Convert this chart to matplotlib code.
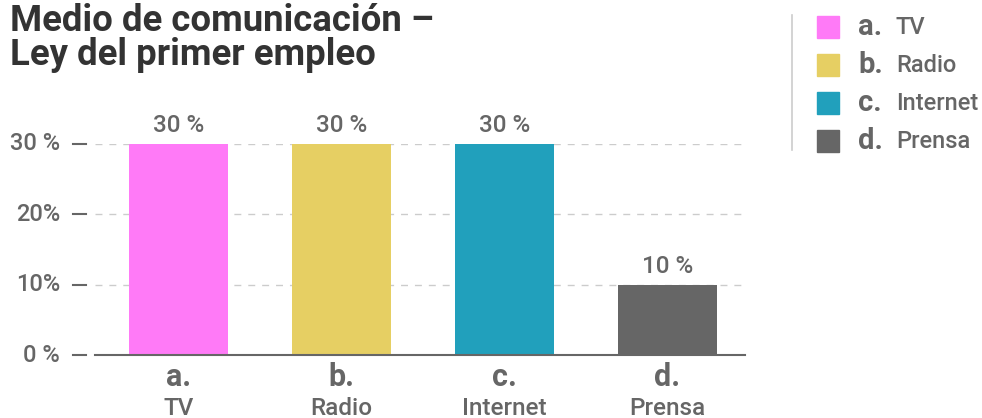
import numpy as np
import matplotlib.pyplot as plt
from matplotlib.patches import Rectangle
from matplotlib.lines import Line2D

plt.rcParams['font.family'] = ['Roboto', 'DejaVu Sans']

# datos
letras = ['a.', 'b.', 'c.', 'd.']
medios = ['TV', 'Radio', 'Internet', 'Prensa']
valores = [30, 30, 30, 10]
colores = ['#ff7af7', '#e6cf63', '#21a0bc', '#666666']
ticks_y = [0, 10, 20, 30]
ticks_y_txt = ['0 %', '10%', '20%', '30 %']

W, H = 982, 418
fig = plt.figure(figsize=(W / 100, H / 100), dpi=100)

# ejes en pixeles de la referencia
x0, x1, y0, y1 = 95, 745, 355, 144
ax = fig.add_axes([x0 / W, 1 - y0 / H, (x1 - x0) / W, (y0 - y1) / H])

pos = np.arange(len(valores))
ax.bar(pos, valores, width=0.607, color=colores, zorder=2)
ax.set_xlim(-0.512, 3.475)
ax.set_ylim(0, 30)

for s in ['top', 'right', 'left']:
    ax.spines[s].set_visible(False)
ax.spines['bottom'].set_color('#666666')
ax.spines['bottom'].set_linewidth(1.5)
ax.spines['bottom'].set_zorder(3)
ax.set_xticks([])
ax.set_yticks([])

gris = '#666666'

# rejilla discontinua
for t in ticks_y[1:]:
    ax.axhline(t, color='#cccccc', lw=1, ls=(0, (5, 5)), zorder=1)

# marcas y etiquetas del eje y
tr_y = ax.get_yaxis_transform()
for t, txt in zip(ticks_y, ticks_y_txt):
    ax.plot([-0.034, -0.014], [t, t], color=gris, lw=1.5, transform=tr_y, clip_on=False)
    ax.text(-0.054, t, txt, transform=tr_y, ha='right', va='center',
            fontsize=17, color=gris, fontweight='medium')

# valores sobre las barras
for p, v in zip(pos, valores):
    ax.annotate(f'{v} %', (p, v), xytext=(0, 13), textcoords='offset points',
                ha='center', va='center', fontsize=17.5, color=gris, fontweight='medium')

# etiquetas de categoria (cortadas abajo como en el original)
tr_x = ax.get_xaxis_transform()
for p, l, m in zip(pos, letras, medios):
    ax.text(p, -0.104, l, transform=tr_x, ha='center', va='center',
            fontsize=22, fontweight='bold', color=gris)
    ax.text(p, -0.255, m, transform=tr_x, ha='center', va='center',
            fontsize=17.5, color=gris, fontweight='medium')

# titulo
fig.text(10 / W, 1 - 31 / H, 'Medio de comunicación –', ha='left', va='baseline',
         fontsize=26.3, fontweight='bold', color='#333333')
fig.text(10 / W, 1 - 65 / H, 'Ley del primer empleo', ha='left', va='baseline',
         fontsize=26.3, fontweight='bold', color='#333333')

# leyenda
fig.add_artist(Line2D([792 / W, 792 / W], [1 - 15 / H, 1 - 150 / H], color='#cccccc', lw=1.2))
for i, (l, m, c) in enumerate(zip(letras, medios, colores)):
    top = 16 + i * 38
    fig.add_artist(Rectangle((817 / W, 1 - (top + 22) / H), 22 / W, 22 / H,
                             transform=fig.transFigure, color=c))
    yc = 1 - (top + 11) / H
    fig.text(858 / W, yc, l, ha='left', va='center', fontsize=21,
             fontweight='bold', color=gris)
    fig.text(896 / W, yc, m, ha='left', va='center', fontsize=17,
             color=gris, fontweight='medium')

fig.savefig('out.png', dpi=100)
